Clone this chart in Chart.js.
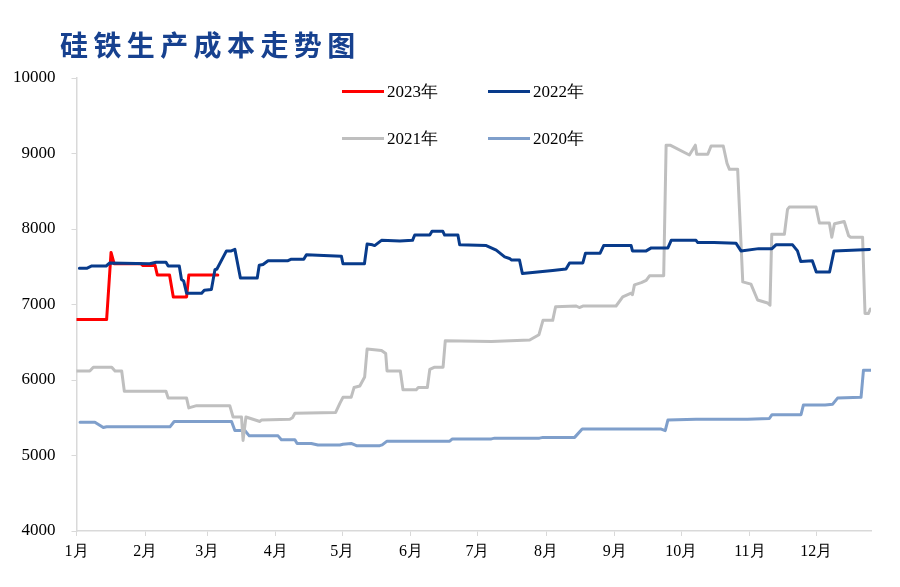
<!DOCTYPE html>
<html>
<head>
<meta charset="utf-8">
<script src="https://cdn.jsdelivr.net/npm/chart.js@4.4.0/dist/chart.umd.min.js"></script>
<style>
  body { margin: 0; background: #fff; }
  #wrap { position: relative; width: 900px; height: 587px; }
  #title {
    position: absolute; left: 60px; top: 28px;
    font-family: "Noto Sans CJK SC", sans-serif; font-weight: bold;
    font-size: 28px; line-height: 32px; letter-spacing: 5.4px; color: #17418f;
  }
  .leg { position: absolute; height: 20px; font-family: "Liberation Serif", serif; font-size: 17px; color: #000; line-height: 20px; }
  .leg i { position: absolute; left: 0; top: 8px; width: 42px; height: 3px; }
  .leg span { position: absolute; left: 45px; top: 0; white-space: nowrap; }
</style>
</head>
<body>
<div id="wrap">
  <canvas id="costChart" width="900" height="587"></canvas>
  <div id="title">硅铁生产成本走势图</div>
  <div id="legend"></div>
</div>
<script>
// x = day of year, y = yuan/ton
const monthStarts = [0, 31, 59, 90, 120, 151, 181, 212, 243, 273, 304, 334];
const monthLabels = ['1月', '2月', '3月', '4月', '5月', '6月', '7月', '8月', '9月', '10月', '11月', '12月'];
const yTicks = [4000, 5000, 6000, 7000, 8000, 9000, 10000];

const days2023 = [0, 13.6, 15.6, 17, 29, 30, 35.5, 36.5, 42, 43.7, 49.7, 50.7, 63.8];
const cost2023 = [6800, 6800, 7690, 7540, 7540, 7515, 7515, 7390, 7390, 7100, 7100, 7390, 7390];

const days2022 = [1.3, 4.6, 6.9, 13.4, 15, 33, 36, 40.4, 41.4, 46.4, 47.4, 48.4, 49.7, 56.5, 57.7, 60.9, 62.5, 63.4, 67.7, 69.9,
  71.5, 74, 81.6, 82.5, 84.2, 86.5, 95.5, 97, 102.6, 103.8, 111.6, 119.6, 120.3, 130, 131.2, 133.6, 134.6, 137.7, 146, 151.7,
  152.7, 159.5, 160.5, 165.4, 166.2, 172.2, 173, 185, 189.5, 193.3, 195.5, 196.3, 200, 201.3, 215, 221, 222.6, 228.6, 229.8, 236.4,
  238, 250.4, 251, 257.2, 259.5, 267, 268.5, 279.7, 280.5, 287.8, 297.8, 300, 308, 314, 315.8, 323.3, 325.5, 327, 332.2, 334,
  340, 342, 358];
const cost2022 = [7480, 7480, 7510, 7510, 7550, 7540, 7560, 7560, 7510, 7510, 7330, 7310, 7150, 7150, 7190, 7200, 7460, 7470, 7710, 7710,
  7730, 7350, 7350, 7520, 7530, 7580, 7580, 7600, 7600, 7660, 7650, 7640, 7540, 7540, 7800, 7790, 7780, 7850, 7840, 7850,
  7920, 7920, 7970, 7970, 7920, 7920, 7790, 7780, 7720, 7630, 7610, 7590, 7590, 7410, 7450, 7470, 7550, 7550, 7680, 7680,
  7780, 7780, 7710, 7710, 7750, 7750, 7850, 7850, 7820, 7820, 7810, 7710, 7740, 7740, 7790, 7790, 7710, 7570, 7580, 7430,
  7430, 7710, 7730];

const days2021 = [0, 6, 7.6, 15.9, 17.4, 20.4, 21.6, 40.4, 41.4, 49.7, 50.7, 54.2, 69.2, 70.7, 74.5, 75.2, 76.5, 82.8, 83.5, 96.3,
  97.5, 98.6, 117, 118.9, 120.3, 124, 125.3, 127.9, 130.1, 131.2, 137.7, 139.6, 140.2, 146.2, 147.4, 153.4, 154.3, 158.4, 159.5, 161.7,
  165.5, 166.5, 187.3, 204.6, 208.8, 210.6, 215, 216.3, 225.6, 227, 228.6, 243.6, 246.6, 250.4, 251, 251.9, 255, 257.2, 258.7, 265.1,
  266.2, 268, 276.7, 279.4, 280, 285, 286.5, 292, 293.7, 294.8, 298.5, 300.8, 304.5, 307.5, 312, 313.1, 313.9, 319.6, 321, 321.8,
  333.9, 335.4, 339.9, 341, 342.2, 346.6, 348.6, 349.5, 354.9, 356, 357.5, 358.4];
const cost2021 = [6120, 6120, 6170, 6170, 6120, 6120, 5850, 5850, 5760, 5760, 5630, 5660, 5660, 5510, 5510, 5200, 5510, 5450, 5470, 5480,
  5500, 5560, 5570, 5690, 5770, 5770, 5900, 5920, 6040, 6410, 6390, 6350, 6120, 6120, 5870, 5870, 5900, 5900, 6140, 6170,
  6170, 6520, 6510, 6530, 6600, 6790, 6790, 6970, 6980, 6960, 6980, 6980, 7100, 7150, 7130, 7260, 7290, 7320, 7380, 7380,
  9110, 9110, 8980, 9110, 8990, 8990, 9100, 9100, 8870, 8790, 8790, 7300, 7270, 7060, 7020, 6990, 7930, 7930, 8260, 8290,
  8290, 8080, 8080, 7890, 8070, 8100, 7910, 7890, 7890, 6880, 6880, 6940];

const days2020 = [1.6, 8.3, 12.1, 13.6, 42.2, 44.1, 70, 71.5, 76, 78, 91, 92.5, 98.6, 99.6, 106, 109, 118.9, 120.3, 124, 126.4,
  136.9, 138, 140.2, 168.5, 169.7, 187.3, 188.8, 209, 210.6, 224.9, 228.3, 264, 265.8, 267, 279.7, 303, 312.8, 314, 327.1, 328.2,
  338, 341.4, 343.6, 354.2, 355.3, 358.7];
const cost2020 = [5440, 5440, 5370, 5380, 5380, 5450, 5450, 5330, 5330, 5260, 5260, 5210, 5210, 5160, 5160, 5140, 5140, 5150, 5160, 5130,
  5130, 5140, 5190, 5190, 5220, 5220, 5230, 5230, 5240, 5240, 5350, 5350, 5330, 5470, 5480, 5480, 5490, 5540, 5540, 5670,
  5670, 5680, 5760, 5770, 6130, 6130];

const series = [
  { label: '2023年', days: days2023, vals: cost2023, color: '#ff0000', order: 1 },
  { label: '2022年', days: days2022, vals: cost2022, color: '#083b8b', order: 0 },
  { label: '2021年', days: days2021, vals: cost2021, color: '#bfbfbf', order: 2 },
  { label: '2020年', days: days2020, vals: cost2020, color: '#7f9fcb', order: 3 }
];

// legend, 2 x 2 grid
const legendPos = [[342, 82], [488, 82], [342, 129], [488, 129]];
const legendBox = document.getElementById('legend');
series.forEach((s, i) => {
  const d = document.createElement('div');
  d.className = 'leg';
  d.style.left = legendPos[i][0] + 'px';
  d.style.top = legendPos[i][1] + 'px';
  d.innerHTML = '<i style="background:' + s.color + '"></i><span>' + s.label + '</span>';
  legendBox.appendChild(d);
});

const ctx = document.getElementById('costChart').getContext('2d');
const costChart = new Chart(ctx, {
  type: 'line',
  data: {
    datasets: series.map(s => ({
      label: s.label,
      data: s.days.map((d, i) => ({ x: d, y: s.vals[i] })),
      borderColor: s.color,
      backgroundColor: s.color,
      borderWidth: 3,
      pointRadius: 0,
      tension: 0,
      borderJoinStyle: 'round',
      borderCapStyle: 'round',
      order: s.order
    }))
  },
  options: {
    responsive: false,
    animation: false,
    layout: { padding: { left: 0, right: 29, top: 78, bottom: 0 } },
    plugins: { legend: { display: false }, tooltip: { enabled: false }, title: { display: false } },
    scales: {
      x: {
        type: 'linear',
        min: 0,
        max: 358.7,
        afterBuildTicks: scale => { scale.ticks = monthStarts.map(v => ({ value: v })); },
        afterFit: scale => { scale.height = 56; },
        ticks: {
          autoSkip: false,
          maxRotation: 0,
          padding: 6,
          color: '#000',
          font: { family: 'Liberation Serif', size: 16 },
          callback: (v) => monthLabels[monthStarts.indexOf(v)]
        },
        grid: { drawOnChartArea: false, drawTicks: true, tickLength: 5, color: '#d9d9d9' },
        border: { color: '#d9d9d9', width: 1.5 }
      },
      y: {
        type: 'linear',
        min: 4000,
        max: 10000,
        afterBuildTicks: scale => { scale.ticks = yTicks.map(v => ({ value: v })); },
        afterFit: scale => { scale.width = 76.5; },
        ticks: {
          padding: 16,
          color: '#000',
          font: { family: 'Liberation Serif', size: 17 },
          callback: (v) => String(v)
        },
        grid: { drawOnChartArea: false, drawTicks: true, tickLength: 5, color: '#d9d9d9' },
        border: { color: '#d9d9d9', width: 1.5 }
      }
    }
  }
});
</script>
</body>
</html>
